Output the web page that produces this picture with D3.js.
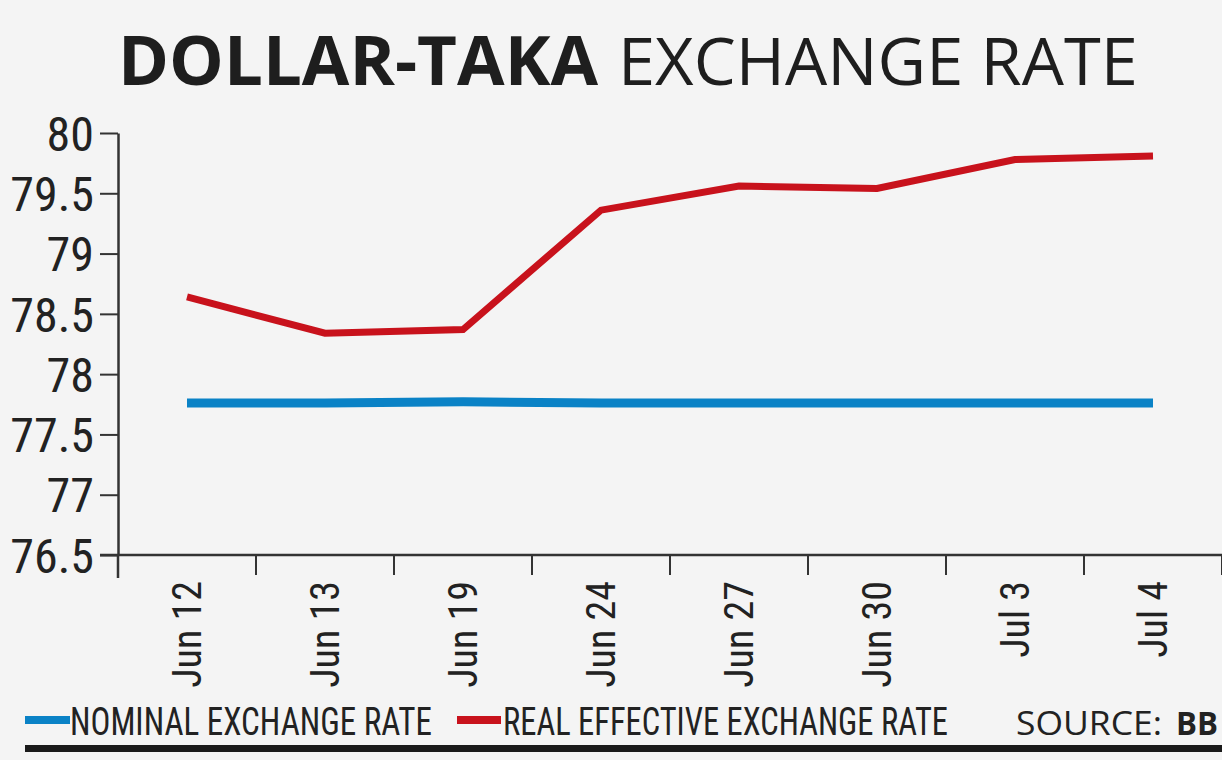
<!DOCTYPE html>
<html>
<head>
<meta charset="utf-8">
<script src="https://cdn.jsdelivr.net/npm/d3@7"></script>
<style>
  html, body { margin: 0; padding: 0; background: #f4f4f4; }
  svg { display: block; }
  .narrow { font-family: "Liberation Sans Narrow", "Arial Narrow", "Roboto Condensed", sans-serif; }
</style>
</head>
<body>
<div id="chart"></div>
<script>
// dates on the x axis
const dates = ["Jun 12", "Jun 13", "Jun 19", "Jun 24", "Jun 27", "Jun 30", "Jul 3", "Jul 4"];
// taka per dollar
const nominal = [77.76, 77.76, 77.77, 77.76, 77.76, 77.76, 77.76, 77.76];
const realEffective = [78.64, 78.34, 78.37, 79.36, 79.56, 79.54, 79.78, 79.81];
const yTicks = [76.5, 77, 77.5, 78, 78.5, 79, 79.5, 80];

const W = 1222, H = 760;
const svg = d3.select("#chart").append("svg")
    .attr("width", W).attr("height", H);

svg.append("rect").attr("width", W).attr("height", H).attr("fill", "#f4f4f4");

// title: bold part + regular part
const title = svg.append("text")
    .attr("x", 118).attr("y", 85)
    .style("font-family", "'Open Sans', 'DejaVu Sans', sans-serif")
    .style("font-size", "68px").attr("fill", "#1e1e1e");
title.append("tspan").attr("font-weight", 700).text("DOLLAR-TAKA")
    .attr("textLength", 480).attr("lengthAdjust", "spacingAndGlyphs");
svg.append("text")
    .attr("x", 618).attr("y", 85)
    .style("font-family", "'Open Sans', 'DejaVu Sans', sans-serif")
    .style("font-size", "66px").attr("fill", "#1e1e1e")
    .attr("textLength", 520).attr("lengthAdjust", "spacingAndGlyphs")
    .text("EXCHANGE RATE");

const x = d3.scaleBand().domain(dates).range([118, 1222]);
const y = d3.scaleLinear().domain([76.5, 80]).range([555, 133]);

// y axis
const yAxis = svg.append("g").attr("transform", "translate(118,0)")
    .call(d3.axisLeft(y).tickValues(yTicks).tickSize(18).tickSizeOuter(0).tickPadding(6)
      .tickFormat(d3.format("")));
yAxis.select(".domain").attr("stroke", "#333").attr("stroke-width", 2.5);
yAxis.selectAll(".tick line").attr("stroke", "#333").attr("stroke-width", 2);
yAxis.selectAll(".tick text").attr("class", "narrow")
    .attr("fill", "#222").style("font-size", "48px").attr("dy", "0.36em");
// y axis runs a little below the x axis
svg.append("line").attr("x1", 118).attr("x2", 118).attr("y1", 555).attr("y2", 578)
    .attr("stroke", "#333").attr("stroke-width", 2.5);

// x axis with ticks between bands
const xAxis = svg.append("g").attr("transform", "translate(0,555)");
xAxis.append("line").attr("x1", 100).attr("x2", W).attr("stroke", "#333").attr("stroke-width", 2.5);
xAxis.selectAll("line.tk").data(dates.slice(1).concat(["end"])).join("line").attr("class", "tk")
    .attr("x1", (d, i) => x(dates[0]) + x.step() * (i + 1))
    .attr("x2", (d, i) => x(dates[0]) + x.step() * (i + 1))
    .attr("y1", 0).attr("y2", 20).attr("stroke", "#333").attr("stroke-width", 2);
xAxis.selectAll("text").data(dates).join("text").attr("class", "narrow")
    .attr("transform", d => `translate(${x(d) + x.bandwidth() / 2 + 14},26) rotate(-90)`)
    .attr("text-anchor", "end")
    .attr("fill", "#222").style("font-size", "40px")
    .text(d => d);

// lines
const line = d3.line()
    .x((d, i) => x(dates[i]) + x.bandwidth() / 2)
    .y(d => y(d));

svg.append("path").datum(nominal)
    .attr("d", line).attr("fill", "none")
    .attr("stroke", "#0a82c6").attr("stroke-width", 9);
svg.append("path").datum(realEffective)
    .attr("d", line).attr("fill", "none")
    .attr("stroke", "#c8121c").attr("stroke-width", 7)
    .attr("stroke-linejoin", "miter");

// legend
const leg = svg.append("g");
leg.append("line").attr("x1", 25).attr("x2", 70).attr("y1", 720).attr("y2", 720)
    .attr("stroke", "#0a82c6").attr("stroke-width", 8);
leg.append("text").attr("class", "narrow").attr("x", 70).attr("y", 735)
    .attr("fill", "#222").style("font-size", "38px")
    .attr("textLength", 362).attr("lengthAdjust", "spacingAndGlyphs")
    .text("NOMINAL EXCHANGE RATE");
leg.append("line").attr("x1", 457).attr("x2", 501).attr("y1", 720).attr("y2", 720)
    .attr("stroke", "#c8121c").attr("stroke-width", 8);
leg.append("text").attr("class", "narrow").attr("x", 503).attr("y", 735)
    .attr("fill", "#222").style("font-size", "38px")
    .attr("textLength", 445).attr("lengthAdjust", "spacingAndGlyphs")
    .text("REAL EFFECTIVE EXCHANGE RATE");

// source
const src = leg.append("text").attr("x", 1016).attr("y", 735)
    .style("font-family", "'Open Sans', 'DejaVu Sans', sans-serif")
    .style("font-size", "32px").attr("fill", "#222");
src.append("tspan").text("SOURCE:")
    .attr("textLength", 146).attr("lengthAdjust", "spacingAndGlyphs");
src.append("tspan").attr("x", 1176).attr("font-weight", 700).text("BB")
    .attr("textLength", 42).attr("lengthAdjust", "spacingAndGlyphs");

// bottom rule
svg.append("rect").attr("x", 25).attr("y", 745).attr("width", W - 25).attr("height", 7)
    .attr("fill", "#1a1a1a");
</script>
</body>
</html>
